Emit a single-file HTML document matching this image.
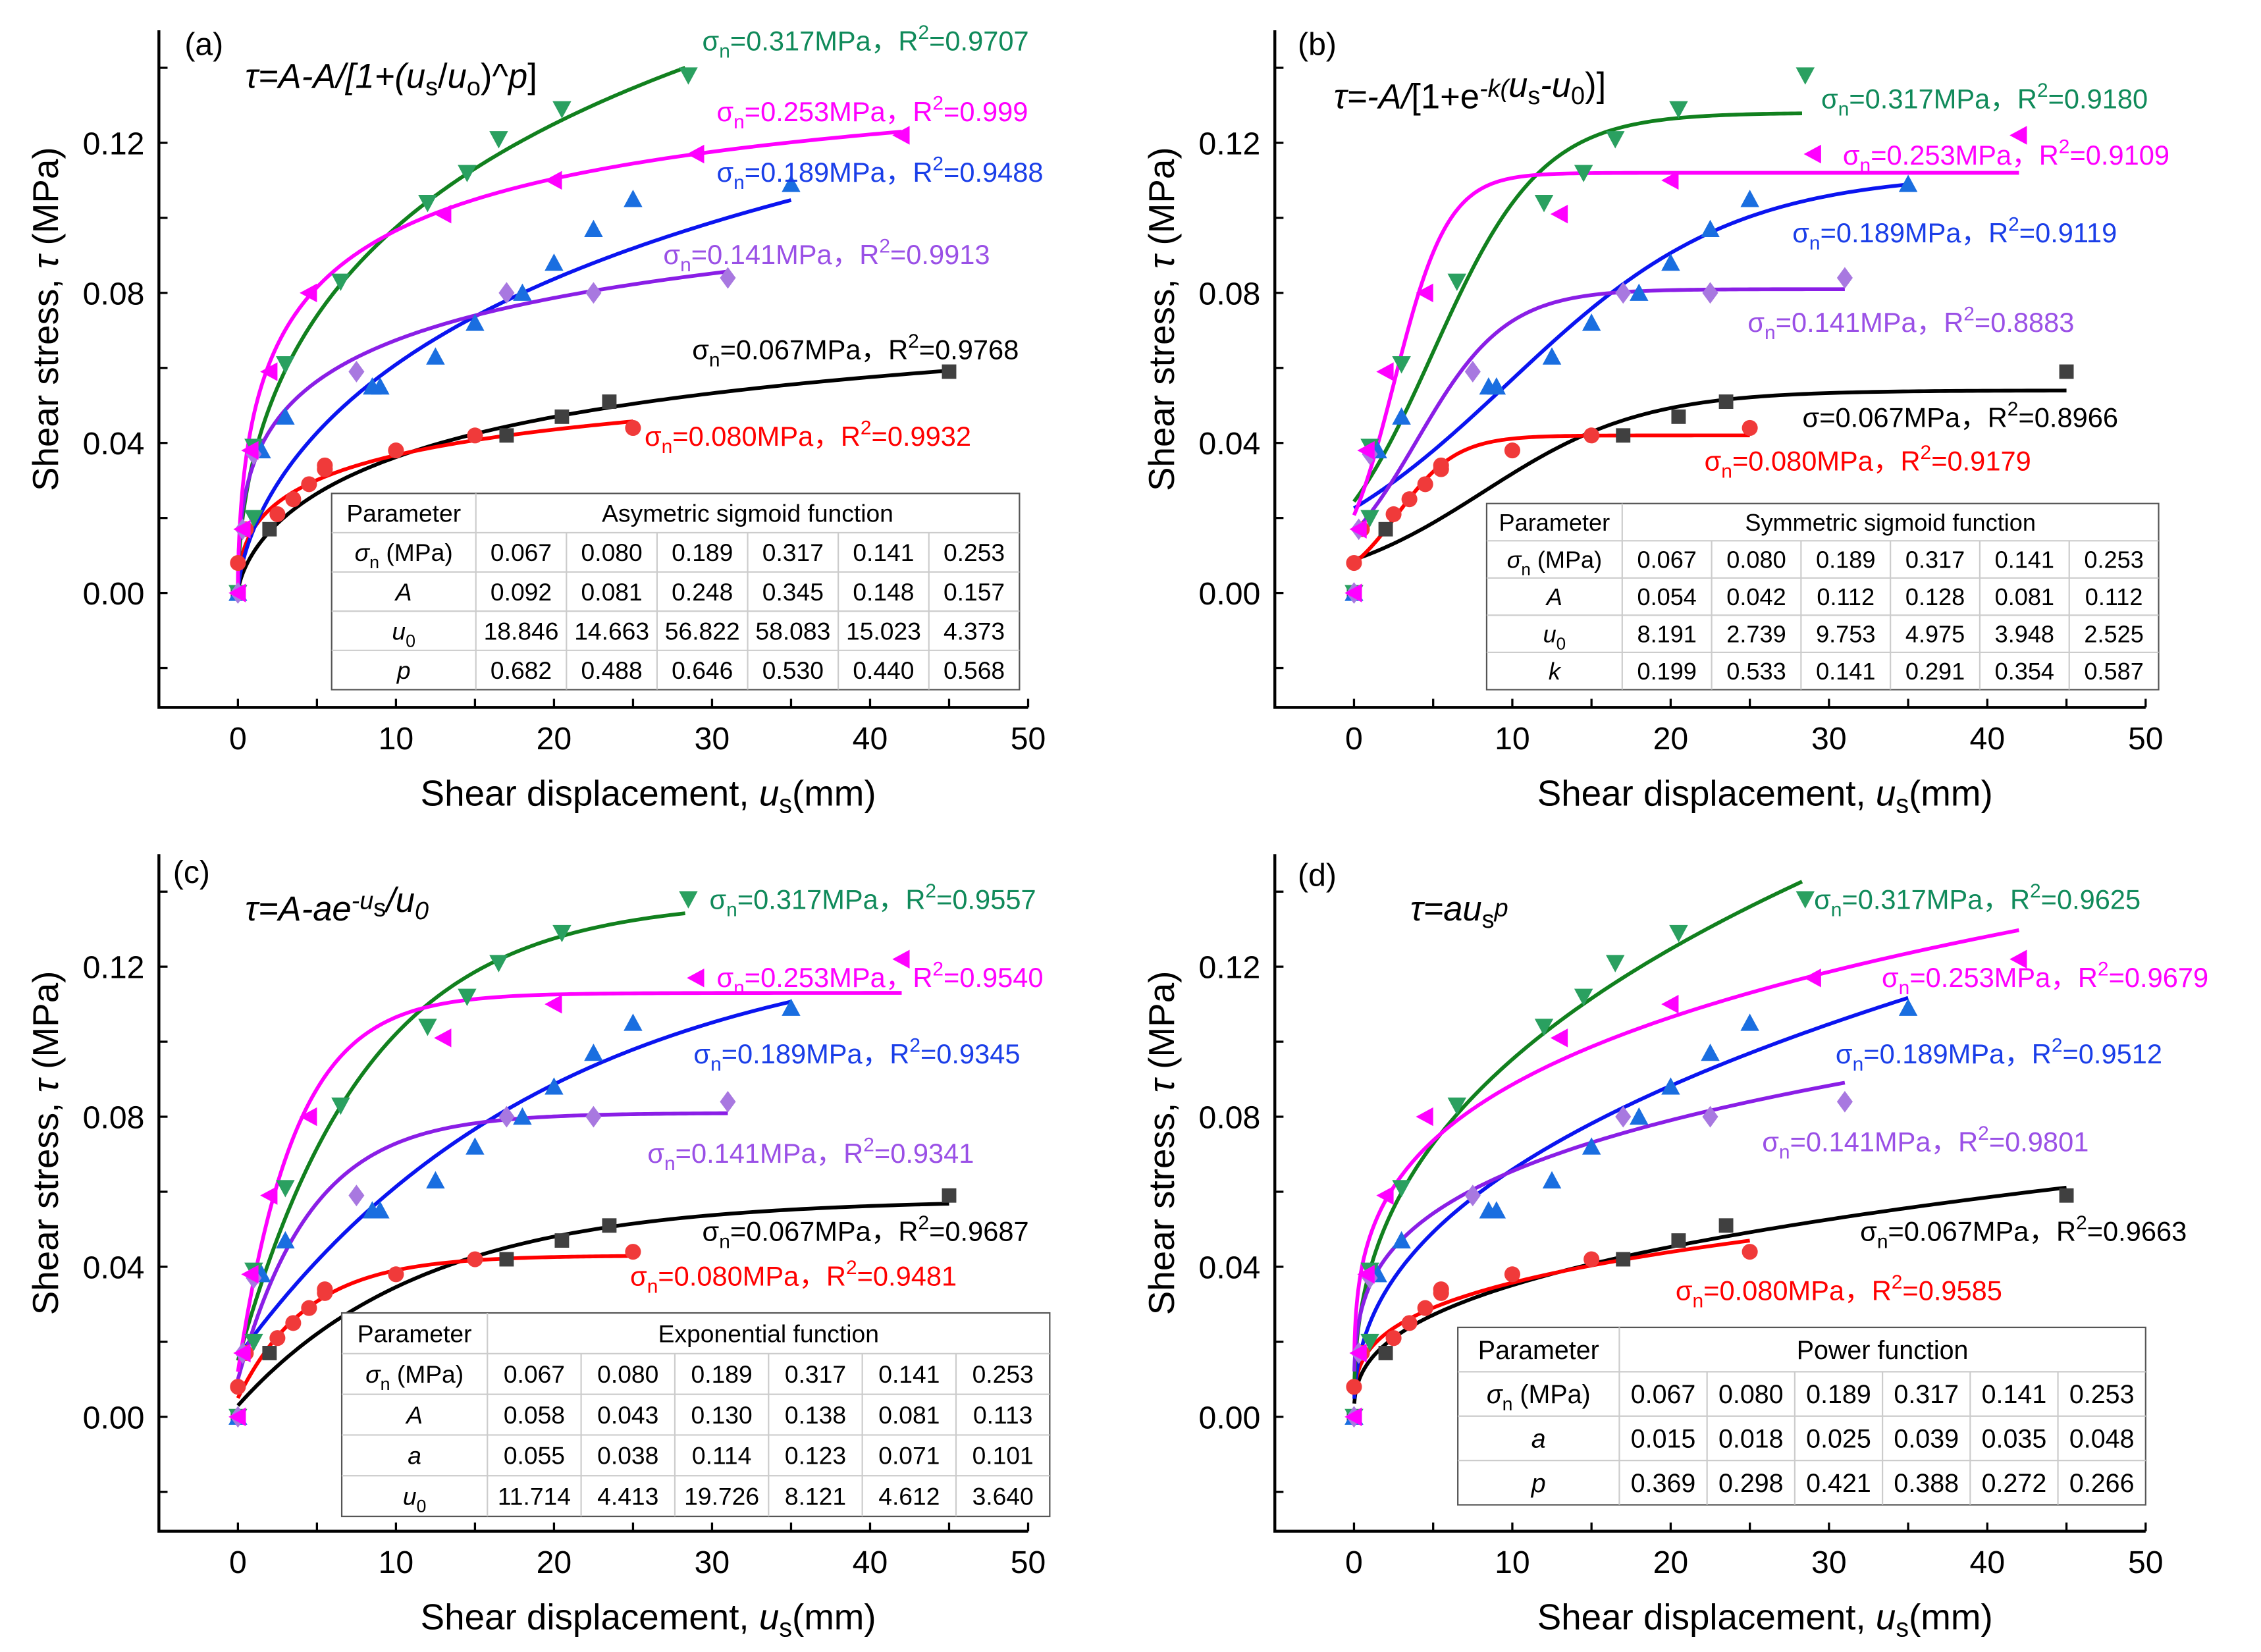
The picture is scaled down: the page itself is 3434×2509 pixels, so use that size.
<!DOCTYPE html>
<html><head><meta charset="utf-8"><style>
html,body{margin:0;padding:0;background:#fff;}
svg{display:block;font-family:"Liberation Sans","DejaVu Sans",sans-serif;}
</style></head>
<body>
<svg id="fig" width="3434" height="2509" viewBox="0 0 1568 1145" preserveAspectRatio="none" xmlns="http://www.w3.org/2000/svg"></svg>
<script>
// ---- measured data (shared by all four panels) ----
const blackU = [0, 2, 17, 20.5, 23.5, 45];
const blackT = [0, 0.017, 0.042, 0.047, 0.051, 0.059];
const redU = [0, 0.5, 2.5, 3.5, 4.5, 5.5, 5.5, 10, 15, 25];
const redT = [0.008, 0.017, 0.021, 0.025, 0.029, 0.033, 0.034, 0.038, 0.042, 0.044];
const blueU = [0, 1.5, 3, 8.5, 9, 12.5, 15, 18, 20, 22.5, 25, 35];
const blueT = [0, 0.038, 0.047, 0.055, 0.055, 0.063, 0.072, 0.080, 0.088, 0.097, 0.105, 0.109];
const greenU = [0, 1, 1, 3, 6.5, 12, 14.5, 16.5, 20.5, 28.5];
const greenT = [0, 0.02, 0.039, 0.061, 0.083, 0.104, 0.112, 0.121, 0.129, 0.138];
const purpleU = [0, 0.3, 1, 7.5, 17, 22.5, 31];
const purpleT = [0, 0.017, 0.037, 0.059, 0.080, 0.080, 0.084];
const magentaU = [0, 0.3, 0.8, 2, 4.5, 13, 20, 29, 42];
const magentaT = [0, 0.017, 0.038, 0.059, 0.080, 0.101, 0.110, 0.117, 0.122];
// series order: 0.067, 0.080, 0.189, 0.317, 0.141, 0.253
const sigmaLabels = ['0.067', '0.080', '0.189', '0.317', '0.141', '0.253'];
const fitEnd = [45, 25, 35, 28.3, 31, 42];
// fitted parameters
const aA = [0.092, 0.081, 0.248, 0.345, 0.148, 0.157];
const aU0 = [18.846, 14.663, 56.822, 58.083, 15.023, 4.373];
const aP = [0.682, 0.488, 0.646, 0.530, 0.440, 0.568];
const bA = [0.054, 0.042, 0.112, 0.128, 0.081, 0.112];
const bU0 = [8.191, 2.739, 9.753, 4.975, 3.948, 2.525];
const bK = [0.199, 0.533, 0.141, 0.291, 0.354, 0.587];
const cA = [0.058, 0.043, 0.130, 0.138, 0.081, 0.113];
const cSmallA = [0.055, 0.038, 0.114, 0.123, 0.071, 0.101];
const cU0 = [11.714, 4.413, 19.726, 8.121, 4.612, 3.640];
const dA = [0.015, 0.018, 0.025, 0.039, 0.035, 0.048];
const dP = [0.369, 0.298, 0.421, 0.388, 0.272, 0.266];
const r2a = ['0.9768', '0.9932', '0.9488', '0.9707', '0.9913', '0.999'];
const r2b = ['0.8966', '0.9179', '0.9119', '0.9180', '0.8883', '0.9109'];
const r2c = ['0.9687', '0.9481', '0.9345', '0.9557', '0.9341', '0.9540'];
const r2d = ['0.9663', '0.9585', '0.9512', '0.9625', '0.9801', '0.9679'];
const xTicks = [0, 10, 20, 30, 40, 50];
const yTicks = [0.00, 0.04, 0.08, 0.12];

const NS = 'http://www.w3.org/2000/svg';
const svg = document.getElementById('fig');
function el(tag, attrs, parent) {
  const e = document.createElementNS(NS, tag);
  for (const k in attrs) e.setAttribute(k, attrs[k]);
  (parent || svg).appendChild(e);
  return e;
}
const dataU = [blackU, redU, blueU, greenU, purpleU, magentaU];
const dataT = [blackT, redT, blueT, greenT, purpleT, magentaT];
const lineCol = ['#000000', '#ff0000', '#0a14f0', '#11801e', '#8a1ee6', '#ff00ff'];
const markCol = ['#404040', '#f03a3a', '#1a6ee0', '#2aa060', '#a878e0', '#ff00ff'];
const labCol = ['#000000', '#ff0000', '#1a3ee8', '#108a5a', '#9a50e6', '#ff00ff'];
const shapes = ['square', 'circle', 'up', 'down', 'diamond', 'left'];
const names = ['black', 'red', 'blue', 'green', 'purple', 'magenta'];

function marker(g, shape, x, y, c) {
  const s = 5.5;
  let m;
  if (shape === 'square') m = el('rect', {x: x - s + 0.5, y: y - s + 0.5, width: 2 * s - 1, height: 2 * s - 1, fill: c}, g);
  else if (shape === 'circle') m = el('circle', {cx: x, cy: y, r: s, fill: c}, g);
  else {
    let p;
    if (shape === 'up') p = [[x, y - s - 1], [x - s - 1, y + s], [x + s + 1, y + s]];
    if (shape === 'down') p = [[x, y + s + 1], [x - s - 1, y - s], [x + s + 1, y - s]];
    if (shape === 'left') p = [[x - s - 1, y], [x + s, y - s - 1], [x + s, y + s + 1]];
    if (shape === 'diamond') p = [[x, y - s - 2], [x + s, y], [x, y + s + 2], [x - s, y]];
    m = el('polygon', {points: p.map(q => q.join(',')).join(' '), fill: c}, g);
  }
  return m;
}

function richText(g, x, y, parts, attrs) {
  const t = el('text', Object.assign({x: x, y: y}, attrs), g);
  parts.forEach(p => {
    const ts = el('tspan', {}, t);
    if (p.sub) { ts.setAttribute('font-size', '0.72em'); ts.setAttribute('dy', '5'); }
    if (p.sup) { ts.setAttribute('font-size', '0.72em'); ts.setAttribute('dy', '-8'); }
    if (p.back) { ts.setAttribute('dy', p.back); }
    if (p.it) ts.setAttribute('font-style', 'italic');
    ts.textContent = p.t;
  });
  return t;
}

function panel(cfg) {
  const g = el('g', {});
  
  
  const X = u => cfg.x0 + u * (cfg.x50 - cfg.x0) / 50;
  const Y = v => cfg.y0 - v * 2600;
  const left = X(-5), right = X(50), bottom = Y(-0.0305), top = Y(0.15);
  const ax = el('path', {d: `M${left},${top} L${left},${bottom} L${right},${bottom}`, stroke: '#000', 'stroke-width': 2, fill: 'none'}, g);
  
  
  for (let v = -0.02; v <= 0.141; v += 0.02) {
    el('line', {x1: left, x2: left + 6, y1: Y(v), y2: Y(v), stroke: '#000', 'stroke-width': 1.5}, g);
  }
  for (let u = 0; u <= 50; u += 5) {
    el('line', {x1: X(u), x2: X(u), y1: bottom, y2: bottom - 6, stroke: '#000', 'stroke-width': 1.5}, g);
  }
  yTicks.forEach(v => {
    const t = el('text', {x: left - 10, y: Y(v) + 8, 'text-anchor': 'end', 'font-size': 22}, g);
    
    
    t.textContent = v.toFixed(2);
  });
  xTicks.forEach(u => {
    const t = el('text', {x: X(u), y: bottom + 29, 'text-anchor': 'middle', 'font-size': 22}, g);
    
    
    t.textContent = u;
  });
  const yt = richText(g, 0, 0, [{t: 'Shear stress, '}, {t: 'τ', it: true}, {t: ' (MPa)'}], {'font-size': 25, 'text-anchor': 'middle', transform: `translate(${left - 70},${Y(0.073)}) rotate(-90)`});
  
  
  const xt = richText(g, (X(-5) + X(50)) / 2 + 38, bottom + 68, [{t: 'Shear displacement, '}, {t: 'u', it: true}, {t: 's', sub: true}, {t: '(mm)', back: -5}], {'font-size': 25, 'text-anchor': 'middle'});
  
  
  const pl = el('text', {x: cfg.letter[0], y: cfg.letter[1], 'font-size': 22}, g);
  
  
  pl.textContent = '(' + cfg.id + ')';
  const fm = richText(g, cfg.formula[0], cfg.formula[1], cfg.formulaParts, {'font-size': 24});
  
  
  for (let i = 0; i < 6; i++) {
    const pts = [];
    const u1 = fitEnd[i];
    for (let k = 0; k <= 200; k++) {
      const u = cfg.start + (u1 - cfg.start) * Math.pow(k / 200, 1.6);
      pts.push(X(u).toFixed(2) + ',' + Y(cfg.f(i, u)).toFixed(2));
    }
    const c = el('polyline', {points: pts.join(' '), fill: 'none', stroke: lineCol[i], 'stroke-width': 2.6}, g);
    
    
  }
  for (let i = 0; i < 6; i++) {
    const mg = el('g', {}, g);
    
    
    dataU[i].forEach((u, j) => {
      const m = marker(mg, shapes[i], X(u), Y(dataT[i][j]), markCol[i]);
      
      
    });
  }
  for (let i = 0; i < 6; i++) {
    const p = cfg.labels[i];
    const parts = (cfg.id === 'b' && i === 0) ? [{t: 'σ=' + sigmaLabels[i] + 'MPa，R'}] :
      [{t: 'σ'}, {t: 'n', sub: true}, {t: '=' + sigmaLabels[i] + 'MPa，R', back: -5}];
    parts.push({t: '2', sup: true}, {t: '=' + cfg.r2[i], back: 8});
    const t = richText(g, p[0], p[1], parts, {'font-size': 19, fill: labCol[i]});
    
    
  }
  const tb = cfg.table;
  const tg = el('g', {}, g);
  
  
  el('rect', {x: tb.x, y: tb.y, width: tb.w, height: tb.h, fill: '#fff', stroke: '#555', 'stroke-width': 1}, tg);
  const rows = tb.rows.length + 2;
  const rh = tb.h / rows;
  const cw = (tb.w - tb.c0) / 6;
  for (let r = 1; r < rows; r++) el('line', {x1: tb.x, x2: tb.x + tb.w, y1: tb.y + r * rh, y2: tb.y + r * rh, stroke: '#ccc', 'stroke-width': 1}, tg);
  el('line', {x1: tb.x + tb.c0, x2: tb.x + tb.c0, y1: tb.y, y2: tb.y + tb.h, stroke: '#ccc', 'stroke-width': 1}, tg);
  for (let c = 1; c < 6; c++) el('line', {x1: tb.x + tb.c0 + c * cw, x2: tb.x + tb.c0 + c * cw, y1: tb.y + rh, y2: tb.y + tb.h, stroke: '#ccc', 'stroke-width': 1}, tg);
  const fs = tb.fs;
  let t = el('text', {x: tb.x + tb.c0 / 2, y: tb.y + rh / 2 + fs * 0.36, 'text-anchor': 'middle', 'font-size': fs}, tg);
  t.textContent = 'Parameter';
  t = el('text', {x: tb.x + tb.c0 + (tb.w - tb.c0) / 2, y: tb.y + rh / 2 + fs * 0.36, 'text-anchor': 'middle', 'font-size': fs}, tg);
  t.textContent = tb.title;
  const allRows = [{label: [{t: 'σ', it: true}, {t: 'n', sub: true}, {t: ' (MPa)', back: -5}], vals: sigmaLabels}].concat(tb.rows);
  allRows.forEach((row, r) => {
    const cy = tb.y + (r + 1.5) * rh + fs * 0.36;
    richText(tg, tb.x + tb.c0 / 2, cy, row.label, {'text-anchor': 'middle', 'font-size': fs});
    row.vals.forEach((v, c) => {
      const tt = el('text', {x: tb.x + tb.c0 + (c + 0.5) * cw, y: cy, 'text-anchor': 'middle', 'font-size': fs}, tg);
      
      
      tt.textContent = v;
    });
  });
}
const fmt = a => a.map(v => v.toFixed(3));
const us0 = [{t: 'u', it: true}, {t: '0', sub: true}];

panel({id: 'a', x0: 165, x50: 713, y0: 411, start: 0.001, letter: [128, 38], formula: [170, 61],
  formulaParts: [{t: 'τ=A-A/[1+(', it: true}, {t: 'u', it: true}, {t: 's', sub: true}, {t: '/', back: -5}, {t: 'u', it: true}, {t: 'o', sub: true}, {t: ')^', back: -5}, {t: 'p', it: true}, {t: ']'}],
  f: (i, u) => aA[i] - aA[i] / (1 + Math.pow(u / aU0[i], aP[i])), r2: r2a,
  labels: [[480, 249], [447, 309], [497, 126], [487, 35], [460, 183], [497, 84]],
  table: {x: 230, y: 342, w: 477, h: 136, c0: 100, fs: 17, title: 'Asymetric sigmoid function',
    rows: [{label: [{t: 'A', it: true}], vals: fmt(aA)}, {label: us0, vals: fmt(aU0)}, {label: [{t: 'p', it: true}], vals: fmt(aP)}]}});

panel({id: 'b', x0: 939, x50: 1488, y0: 411, start: 0, letter: [900, 38], formula: [925, 75],
  formulaParts: [{t: 'τ=-A/', it: true}, {t: '[1+e'}, {t: '-k(', sup: true, it: true}, {t: 'u', it: true}, {t: 's', sub: true}, {t: '-u', it: true, back: -5}, {t: '0', sub: true}, {t: ')]', back: -5}],
  f: (i, u) => bA[i] / (1 + Math.exp(-bK[i] * (u - bU0[i]))), r2: r2b,
  labels: [[1250, 296], [1182, 326], [1243, 168], [1263, 75], [1212, 230], [1278, 114]],
  table: {x: 1031, y: 349, w: 466, h: 129, c0: 94, fs: 16.5, title: 'Symmetric sigmoid function',
    rows: [{label: [{t: 'A', it: true}], vals: fmt(bA)}, {label: us0, vals: fmt(bU0)}, {label: [{t: 'k', it: true}], vals: fmt(bK)}]}});

panel({id: 'c', x0: 165, x50: 713, y0: 982, start: 0, letter: [120, 612], formula: [170, 638],
  formulaParts: [{t: 'τ=A-ae', it: true}, {t: '-u', sup: true, it: true}, {t: 's', sub: true}, {t: '/u', it: true, back: -3}, {t: '0', it: true, sub: true}],
  f: (i, u) => cA[i] - cSmallA[i] * Math.exp(-u / cU0[i]), r2: r2c,
  labels: [[487, 860], [437, 891], [481, 737], [492, 630], [449, 806], [497, 684]],
  table: {x: 237, y: 910, w: 491, h: 141, c0: 101, fs: 17, title: 'Exponential function',
    rows: [{label: [{t: 'A', it: true}], vals: fmt(cA)}, {label: [{t: 'a', it: true}], vals: fmt(cSmallA)}, {label: us0, vals: fmt(cU0)}]}});

panel({id: 'd', x0: 939, x50: 1488, y0: 982, start: 0.02, letter: [900, 614], formula: [978, 638],
  formulaParts: [{t: 'τ=au', it: true}, {t: 's', sub: true}, {t: 'p', sup: true, it: true}],
  f: (i, u) => dA[i] * Math.pow(u, dP[i]), r2: r2d,
  labels: [[1290, 860], [1162, 901], [1273, 737], [1258, 630], [1222, 798], [1305, 684]],
  table: {x: 1011, y: 920, w: 477, h: 123, c0: 112, fs: 18, title: 'Power function',
    rows: [{label: [{t: 'a', it: true}], vals: fmt(dA)}, {label: [{t: 'p', it: true}], vals: fmt(dP)}]}});
</script>
</body></html>
